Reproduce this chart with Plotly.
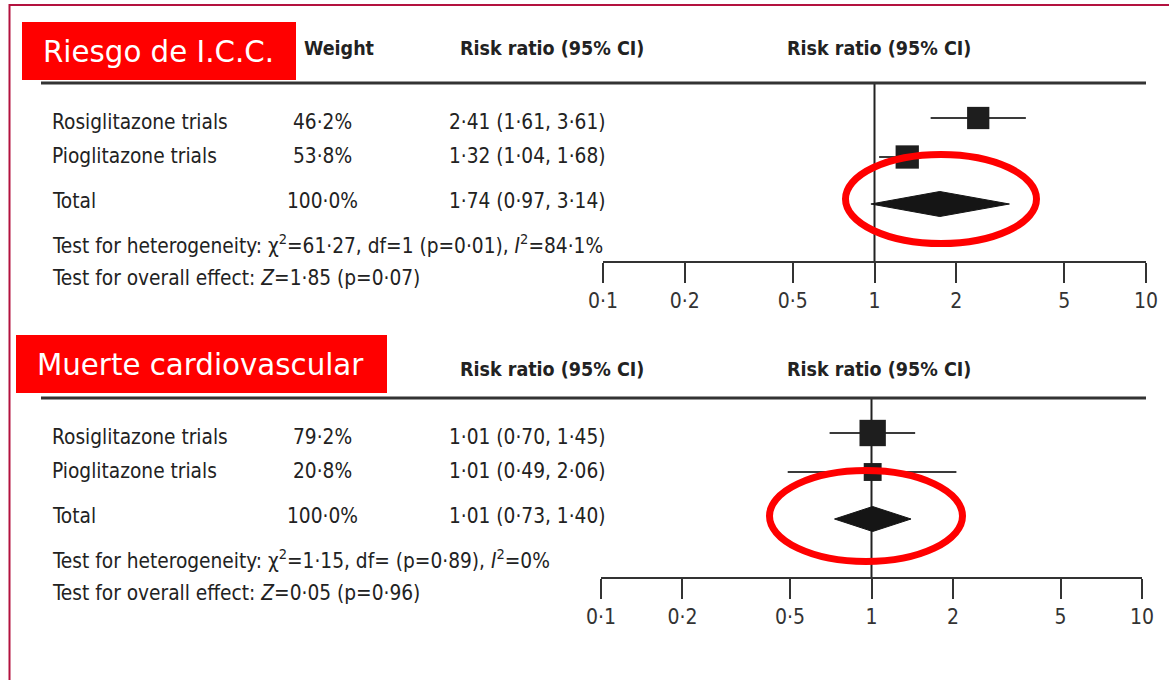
import plotly.graph_objects as go

# ---- data ---------------------------------------------------------------
row_labels = ["Rosiglitazone trials", "Pioglitazone trials", "Total"]

icc_weight = [46.2, 53.8, 100.0]
icc_rr = [2.41, 1.32, 1.74]
icc_lo = [1.61, 1.04, 0.97]
icc_hi = [3.61, 1.68, 3.14]
icc_het = "Test for heterogeneity: χ<sup>2</sup>=61·27, df=1 (p=0·01), <i>I</i><sup>2</sup>=84·1%"
icc_overall = "Test for overall effect: <i>Z</i>=1·85 (p=0·07)"

cv_weight = [79.2, 20.8, 100.0]
cv_rr = [1.01, 1.01, 1.01]
cv_lo = [0.70, 0.49, 0.73]
cv_hi = [1.45, 2.06, 1.40]
cv_het = "Test for heterogeneity: χ<sup>2</sup>=1·15, df= (p=0·89), <i>I</i><sup>2</sup>=0%"
cv_overall = "Test for overall effect: <i>Z</i>=0·05 (p=0·96)"

tick_vals = [0.1, 0.2, 0.5, 1, 2, 5, 10]
tick_text = ["0·1", "0·2", "0·5", "1", "2", "5", "10"]

# ---- styling / layout ---------------------------------------------------
W, H = 1169, 680
BODY = "DejaVu Sans Condensed, Liberation Sans Narrow, Roboto, sans-serif"
BANNER = "DejaVu Sans, Verdana, sans-serif"
INK = "#222222"
RED = "#ff0000"
BODY_SIZE = 20.7
HEAD_SIZE = 19.5


def px(x):
    return x / W


def fmt(v, nd=2):
    return f"{v:.{nd}f}".replace(".", "·")


fig = go.Figure()
annotations = []
shapes = []

panels = [
    dict(title="Riesgo de I.C.C.", box=(22, 296, 22, 80), off=0, xa="x",
         weight=icc_weight, rr=icc_rr, lo=icc_lo, hi=icc_hi,
         het=icc_het, overall=icc_overall, show_weight=True,
         ring=(845.5, 1036.5, 154.5, 243.5)),
    dict(title="Muerte cardiovascular", box=(16, 387, 335, 393), off=315, xa="x2",
         weight=cv_weight, rr=cv_rr, lo=cv_lo, hi=cv_hi,
         het=cv_het, overall=cv_overall, show_weight=False,
         ring=(769.5, 962.5, 470.5, 561.5)),
]

# row layout inside one panel (pixel rows, shifted by panel offset)
TEXT_ROWS = [122, 156, 201]
MARK_ROWS = [118, 157, 204]
HEADER_Y = 48
RULE_Y = 82
AXIS_Y = 262
HET_Y = 244
OVR_Y = 278
DIAMOND_H = 25

for p in panels:
    o = p["off"]
    xa = p["xa"]
    bx0, bx1, by0, by1 = p["box"]

    # banner box
    shapes.append(dict(type="rect", xref="paper", yref="y",
                       x0=px(bx0), x1=px(bx1), y0=by0, y1=by1,
                       fillcolor=RED, line=dict(width=0), layer="above"))
    annotations.append(dict(text=p["title"], xref="paper", yref="y",
                            x=px(bx0 + 19), y=(by0 + by1) / 2 + 1,
                            xanchor="left", yanchor="middle", showarrow=False,
                            font=dict(family=BANNER, size=29.3, color="white")))

    # column headers
    if p["show_weight"]:
        annotations.append(dict(text="<b>Weight</b>", xref="paper", yref="y",
                                x=px(302), y=HEADER_Y + o, xanchor="left",
                                yanchor="middle", showarrow=False,
                                font=dict(family=BODY, size=HEAD_SIZE, color=INK)))
    for hx in (458, 785):
        annotations.append(dict(text="<b>Risk ratio (95% CI)</b>", xref="paper", yref="y",
                                x=px(hx), y=HEADER_Y + o + (6 if o else 0), xanchor="left",
                                yanchor="middle", showarrow=False,
                                font=dict(family=BODY, size=HEAD_SIZE, color=INK)))

    # header rule
    shapes.append(dict(type="line", xref="paper", yref="y",
                       x0=px(41), x1=px(1146), y0=RULE_Y + o + 1, y1=RULE_Y + o + 1,
                       line=dict(color="#333333", width=3)))

    # table rows
    for i, lab in enumerate(row_labels):
        ty = TEXT_ROWS[i] + o
        annotations.append(dict(text=lab, xref="paper", yref="y", x=px(50), y=ty,
                                xanchor="left", yanchor="middle", showarrow=False,
                                font=dict(family=BODY, size=BODY_SIZE, color=INK)))
        annotations.append(dict(text=fmt(p["weight"][i], 1) + "%", xref="paper", yref="y",
                                x=px(322), y=ty, xanchor="center", yanchor="middle",
                                showarrow=False,
                                font=dict(family=BODY, size=BODY_SIZE, color=INK)))
        annotations.append(dict(text=f"{fmt(p['rr'][i])} ({fmt(p['lo'][i])}, {fmt(p['hi'][i])})",
                                xref="paper", yref="y", x=px(447), y=ty,
                                xanchor="left", yanchor="middle", showarrow=False,
                                font=dict(family=BODY, size=BODY_SIZE, color=INK)))
    for txt, ty in ((p["het"], HET_Y), (p["overall"], OVR_Y)):
        annotations.append(dict(text=txt, xref="paper", yref="y", x=px(50), y=ty + o,
                                xanchor="left", yanchor="middle", showarrow=False,
                                font=dict(family=BODY, size=BODY_SIZE, color=INK)))

    # line of no effect
    fig.add_trace(go.Scatter(x=[1, 1], y=[RULE_Y + o, AXIS_Y + o], mode="lines",
                             xaxis=xa, yaxis="y", hoverinfo="skip",
                             line=dict(color=INK, width=2), showlegend=False))

    # individual trials: CI whiskers and weighted squares
    for i in range(2):
        my = MARK_ROWS[i] + o
        fig.add_trace(go.Scatter(x=[p["lo"][i], p["hi"][i]], y=[my, my], mode="lines",
                                 xaxis=xa, yaxis="y", showlegend=False,
                                 line=dict(color="#3a3a3a", width=2)))
        fig.add_trace(go.Scatter(x=[p["rr"][i]], y=[my], mode="markers",
                                 xaxis=xa, yaxis="y", showlegend=False,
                                 marker=dict(symbol="square", color="#1e1e1e",
                                             size=9 + 1.95 * p["weight"][i] ** 0.5,
                                             line=dict(width=0))))

    # pooled estimate diamond
    dy = MARK_ROWS[2] + o
    fig.add_trace(go.Scatter(
        x=[p["lo"][2], p["rr"][2], p["hi"][2], p["rr"][2], p["lo"][2]],
        y=[dy, dy - DIAMOND_H / 2, dy, dy + DIAMOND_H / 2, dy],
        mode="lines", fill="toself", fillcolor="#151515",
        line=dict(color="#151515", width=1), xaxis=xa, yaxis="y", showlegend=False))

    # highlight ring
    x0, x1, y0, y1 = p["ring"]
    shapes.append(dict(type="circle", xref="paper", yref="y",
                       x0=px(x0), x1=px(x1), y0=y0, y1=y1,
                       line=dict(color=RED, width=7), layer="above"))

# outer frame
shapes.append(dict(type="rect", xref="paper", yref="y", x0=px(9.5), x1=1.05,
                   y0=5, y1=H + 20, line=dict(color="#b3123f", width=2)))

axis_common = dict(type="log", range=[-1, 1], tickvals=tick_vals, ticktext=tick_text,
                   ticks="outside", ticklen=20, tickwidth=2, tickcolor="#333333",
                   showline=True, linecolor="#333333", linewidth=2,
                   showgrid=False, zeroline=False, anchor="free", automargin=False,
                   tickfont=dict(family=BODY, size=21, color="#333333"))

fig.update_layout(
    width=W, height=H,
    margin=dict(l=0, r=0, t=0, b=0, pad=0, autoexpand=False),
    paper_bgcolor="white", plot_bgcolor="rgba(0,0,0,0)",
    xaxis=dict(domain=[px(603), px(1146)], position=1 - AXIS_Y / H, **axis_common),
    xaxis2=dict(domain=[px(601), px(1142)], position=1 - (AXIS_Y + 316) / H, **axis_common),
    yaxis=dict(range=[H, 0], domain=[0, 1], visible=False, anchor="free", position=0,
               automargin=False),
    shapes=shapes,
    annotations=annotations,
    showlegend=False,
)

fig.write_html("out.html")
